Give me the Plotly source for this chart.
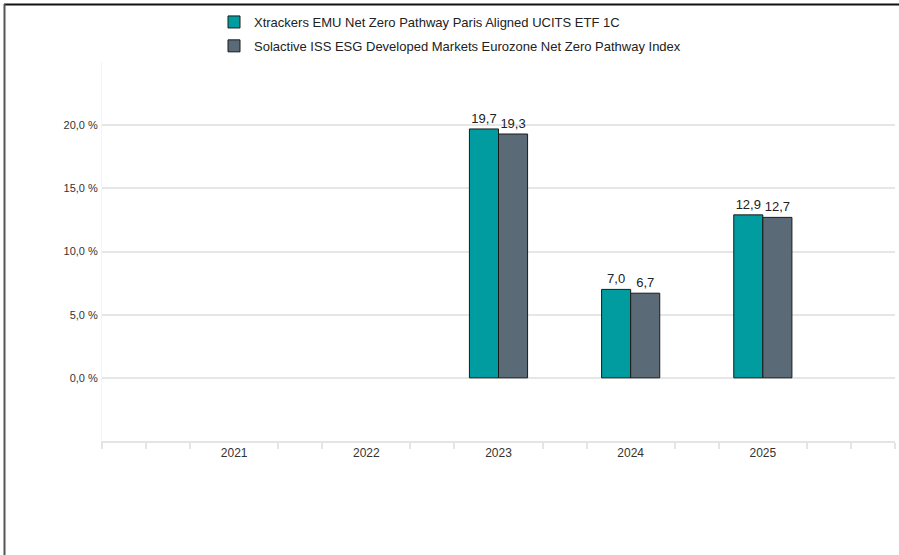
import plotly.graph_objects as go

years = ["2021", "2022", "2023", "2024", "2025"]
fund_name = "Xtrackers EMU Net Zero Pathway Paris Aligned UCITS ETF 1C"
index_name = "Solactive ISS ESG Developed Markets Eurozone Net Zero Pathway Index"
fund_values = [None, None, 19.7, 7.0, 12.9]
index_values = [None, None, 19.3, 6.7, 12.7]
y_ticks = [0, 5, 10, 15, 20, 25]
y_labels = ["0,0 %", "5,0 %", "10,0 %", "15,0 %", "20,0 %", ""]

W, H = 899, 555
L, R, T, B = 102, 4, 62, 114
pw, ph = W - L - R, H - T - B

def px_x(p):
    return (p - L) / pw

def px_y(p):
    return (H - B - p) / ph

xpos = list(range(len(years)))
font = "Arial, Liberation Sans, Helvetica, sans-serif"

fig = go.Figure()
fig.add_trace(go.Bar(
    x=xpos, y=fund_values, name=fund_name, legendgroup="a",
    marker=dict(color="#009CA0", line=dict(color="#1a1a1a", width=1)),
    texttemplate="%{y:.1f}", textposition="outside", cliponaxis=False,
    textfont=dict(size=13, color="#222222", family=font),
))
fig.add_trace(go.Bar(
    x=xpos, y=index_values, name=index_name, legendgroup="b",
    marker=dict(color="#5A6A76", line=dict(color="#1a1a1a", width=1)),
    texttemplate="%{y:.1f}", textposition="outside", cliponaxis=False,
    textfont=dict(size=13, color="#222222", family=font),
))

minor_vals = []
for i in range(-3, 16):
    v = i / 3
    if i % 3 != 0 or i in (-3, 15):
        minor_vals.append(v)

fig.update_layout(
    width=W, height=H,
    margin=dict(l=L, r=R, t=T, b=B),
    paper_bgcolor="white", plot_bgcolor="white",
    separators=", ",
    barmode="group", bargap=0.56, bargroupgap=0,
    font=dict(family=font, size=11, color="#333333"),
    showlegend=True,
    legend=dict(
        x=px_x(214), y=px_y(7), xanchor="left", yanchor="top",
        orientation="v", font=dict(size=13, color="#222222", family=font),
        tracegroupgap=4, itemwidth=30, bgcolor="rgba(0,0,0,0)",
    ),
    xaxis=dict(
        range=[-1, 5], tickmode="array", tickvals=xpos, ticktext=years,
        ticks="", showgrid=False, zeroline=False,
        showline=True, linecolor="#e4e4e4", linewidth=2,
        tickfont=dict(size=12, color="#333333"),
        minor=dict(tickmode="array", tickvals=minor_vals, ticks="outside",
                   ticklen=6, tickcolor="#e4e4e4", tickwidth=2, showgrid=False),
    ),
    yaxis=dict(
        range=[-5, 25], tickmode="array", tickvals=y_ticks, ticktext=y_labels,
        showgrid=True, gridcolor="#e6e6e6", gridwidth=1.5, zeroline=False,
        showline=True, linecolor="#f4f4f4", linewidth=1,
        ticks="", ticklabelstandoff=1,
        tickfont=dict(size=11, color="#333333"),
    ),
    shapes=[
        dict(type="line", xref="paper", yref="paper",
             x0=px_x(4), x1=px_x(899), y0=px_y(4.5), y1=px_y(4.5),
             line=dict(color="#111111", width=2)),
        dict(type="line", xref="paper", yref="paper",
             x0=px_x(4.5), x1=px_x(4.5), y0=px_y(4), y1=px_y(555),
             line=dict(color="#555555", width=2)),
    ],
)

fig.write_html("out.html", config={"displayModeBar": False},
               post_script="document.body.style.margin='0';")
